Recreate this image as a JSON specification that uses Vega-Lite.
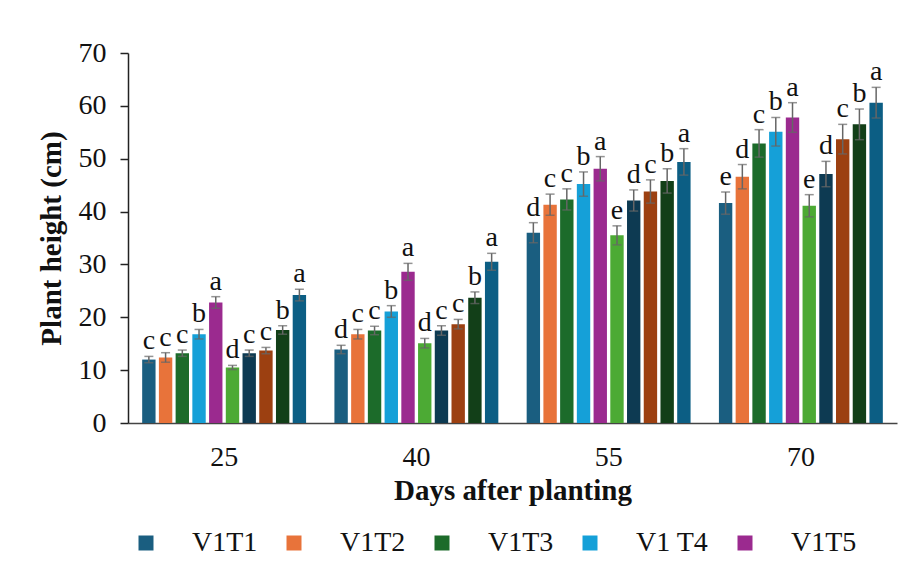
{
  "$schema": "https://vega.github.io/schema/vega-lite/v6.json",
  "width": 769,
  "height": 370,
  "autosize": {"type": "none"},
  "padding": {"left": 128, "top": 53, "right": 22, "bottom": 165},
  "background": "white",
  "config": {
    "font": "Liberation Serif",
    "view": {"stroke": null},
    "axis": {"labelFont": "Liberation Serif", "titleFont": "Liberation Serif", "labelColor": "#111", "titleColor": "#111", "grid": false},
    "legend": {"labelFont": "Liberation Serif"}
  },
  "data": {
    "values": [
      {"day": "25", "trt": "V1T1", "mean": 12.0, "lo": 11.4, "hi": 12.6, "letter": "c"},
      {"day": "25", "trt": "V1T2", "mean": 12.4, "lo": 11.5, "hi": 13.3, "letter": "c"},
      {"day": "25", "trt": "V1T3", "mean": 13.2, "lo": 12.6, "hi": 13.8, "letter": "c"},
      {"day": "25", "trt": "V1 T4", "mean": 16.8, "lo": 15.9, "hi": 17.7, "letter": "b"},
      {"day": "25", "trt": "V1T5", "mean": 22.8, "lo": 21.7, "hi": 23.9, "letter": "a"},
      {"day": "25", "trt": "V2T1", "mean": 10.5, "lo": 10.1, "hi": 10.9, "letter": "d"},
      {"day": "25", "trt": "V2T2", "mean": 13.2, "lo": 12.6, "hi": 13.8, "letter": "c"},
      {"day": "25", "trt": "V2T3", "mean": 13.7, "lo": 13.1, "hi": 14.3, "letter": "c"},
      {"day": "25", "trt": "V2T4", "mean": 17.6, "lo": 16.8, "hi": 18.4, "letter": "b"},
      {"day": "25", "trt": "V2T5", "mean": 24.2, "lo": 23.1, "hi": 25.3, "letter": "a"},
      {"day": "40", "trt": "V1T1", "mean": 13.9, "lo": 13.1, "hi": 14.7, "letter": "d"},
      {"day": "40", "trt": "V1T2", "mean": 16.8, "lo": 15.9, "hi": 17.7, "letter": "c"},
      {"day": "40", "trt": "V1T3", "mean": 17.5, "lo": 16.7, "hi": 18.3, "letter": "c"},
      {"day": "40", "trt": "V1 T4", "mean": 21.1, "lo": 20.0, "hi": 22.2, "letter": "b"},
      {"day": "40", "trt": "V1T5", "mean": 28.6, "lo": 27.0, "hi": 30.2, "letter": "a"},
      {"day": "40", "trt": "V2T1", "mean": 15.1, "lo": 14.2, "hi": 16.0, "letter": "d"},
      {"day": "40", "trt": "V2T2", "mean": 17.5, "lo": 16.6, "hi": 18.4, "letter": "c"},
      {"day": "40", "trt": "V2T3", "mean": 18.7, "lo": 17.8, "hi": 19.6, "letter": "c"},
      {"day": "40", "trt": "V2T4", "mean": 23.7, "lo": 22.6, "hi": 24.8, "letter": "b"},
      {"day": "40", "trt": "V2T5", "mean": 30.5, "lo": 28.9, "hi": 32.1, "letter": "a"},
      {"day": "55", "trt": "V1T1", "mean": 36.0, "lo": 34.1, "hi": 37.9, "letter": "d"},
      {"day": "55", "trt": "V1T2", "mean": 41.3, "lo": 39.3, "hi": 43.3, "letter": "c"},
      {"day": "55", "trt": "V1T3", "mean": 42.3, "lo": 40.3, "hi": 44.3, "letter": "c"},
      {"day": "55", "trt": "V1 T4", "mean": 45.2, "lo": 42.9, "hi": 47.5, "letter": "b"},
      {"day": "55", "trt": "V1T5", "mean": 48.1, "lo": 45.8, "hi": 50.4, "letter": "a"},
      {"day": "55", "trt": "V2T1", "mean": 35.5, "lo": 33.7, "hi": 37.3, "letter": "e"},
      {"day": "55", "trt": "V2T2", "mean": 42.1, "lo": 40.1, "hi": 44.1, "letter": "d"},
      {"day": "55", "trt": "V2T3", "mean": 43.8, "lo": 41.6, "hi": 46.0, "letter": "c"},
      {"day": "55", "trt": "V2T4", "mean": 45.8, "lo": 43.5, "hi": 48.1, "letter": "b"},
      {"day": "55", "trt": "V2T5", "mean": 49.4, "lo": 46.9, "hi": 51.9, "letter": "a"},
      {"day": "70", "trt": "V1T1", "mean": 41.6, "lo": 39.5, "hi": 43.7, "letter": "e"},
      {"day": "70", "trt": "V1T2", "mean": 46.6, "lo": 44.3, "hi": 48.9, "letter": "d"},
      {"day": "70", "trt": "V1T3", "mean": 52.9, "lo": 50.3, "hi": 55.5, "letter": "c"},
      {"day": "70", "trt": "V1 T4", "mean": 55.1, "lo": 52.4, "hi": 57.8, "letter": "b"},
      {"day": "70", "trt": "V1T5", "mean": 57.8, "lo": 55.0, "hi": 60.6, "letter": "a"},
      {"day": "70", "trt": "V2T1", "mean": 41.1, "lo": 39.0, "hi": 43.2, "letter": "e"},
      {"day": "70", "trt": "V2T2", "mean": 47.1, "lo": 44.7, "hi": 49.5, "letter": "d"},
      {"day": "70", "trt": "V2T3", "mean": 53.7, "lo": 50.9, "hi": 56.5, "letter": "c"},
      {"day": "70", "trt": "V2T4", "mean": 56.5, "lo": 53.6, "hi": 59.4, "letter": "b"},
      {"day": "70", "trt": "V2T5", "mean": 60.6, "lo": 57.7, "hi": 63.5, "letter": "a"}
    ]
  },
  "encoding": {
    "x": {
      "field": "day", "type": "nominal",
      "scale": {"paddingInner": 0.13, "paddingOuter": 0.065},
      "axis": {"title": "Days after planting", "labelAngle": 0, "ticks": false, "labelPadding": 20, "labelFontSize": 28, "titleFontSize": 29, "titleFontWeight": "bold", "titlePadding": 5, "domainColor": "#444", "domainWidth": 1.5}
    },
    "xOffset": {
      "field": "trt", "type": "nominal",
      "scale": {"domain": ["V1T1", "V1T2", "V1T3", "V1 T4", "V1T5", "V2T1", "V2T2", "V2T3", "V2T4", "V2T5"], "paddingInner": 0.2, "paddingOuter": 0.1}
    }
  },
  "layer": [
    {
      "mark": {"type": "bar"},
      "encoding": {
        "y": {
          "field": "mean", "type": "quantitative",
          "scale": {"domain": [0, 70]},
          "axis": {"title": "Plant height (cm)", "values": [0, 10, 20, 30, 40, 50, 60, 70], "tickSize": 8, "tickColor": "#222", "domainColor": "#222", "domainWidth": 1.5, "tickWidth": 1.5, "labelPadding": 14, "labelFontSize": 28, "titleFontSize": 29, "titleFontWeight": "bold", "titlePadding": 12}
        },
        "color": {
          "field": "trt", "type": "nominal",
          "scale": {
            "domain": ["V1T1", "V1T2", "V1T3", "V1 T4", "V1T5", "V2T1", "V2T2", "V2T3", "V2T4", "V2T5"],
            "range": ["#1a5e80", "#e8733a", "#1c6b2a", "#15a0d8", "#9b2a8f", "#4caa34", "#0d3a52", "#9c4011", "#123f18", "#0c5e84"]
          },
          "legend": {
            "values": ["V1T1", "V1T2", "V1T3", "V1 T4", "V1T5"],
            "title": null, "orient": "none", "legendX": 4, "legendY": 476,
            "direction": "horizontal", "columns": 5,
            "symbolType": "square", "symbolSize": 225, "symbolStrokeWidth": 0,
            "labelFontSize": 28, "labelColor": "#111", "labelOffset": 32, "columnPadding": 22
          }
        }
      }
    },
    {
      "mark": {"type": "rule", "color": "#666", "strokeWidth": 1.5},
      "encoding": {
        "y": {"field": "lo", "type": "quantitative"},
        "y2": {"field": "hi"}
      }
    },
    {
      "mark": {"type": "tick", "color": "#666", "thickness": 1.5, "size": 9, "orient": "horizontal"},
      "encoding": {"y": {"field": "hi", "type": "quantitative"}}
    },
    {
      "mark": {"type": "tick", "color": "#666", "thickness": 1.5, "size": 9, "orient": "horizontal"},
      "encoding": {"y": {"field": "lo", "type": "quantitative"}}
    },
    {
      "mark": {"type": "text", "fontSize": 28, "font": "Liberation Serif", "color": "#111", "baseline": "alphabetic", "dy": -7},
      "encoding": {
        "y": {"field": "hi", "type": "quantitative"},
        "text": {"field": "letter"}
      }
    }
  ]
}
